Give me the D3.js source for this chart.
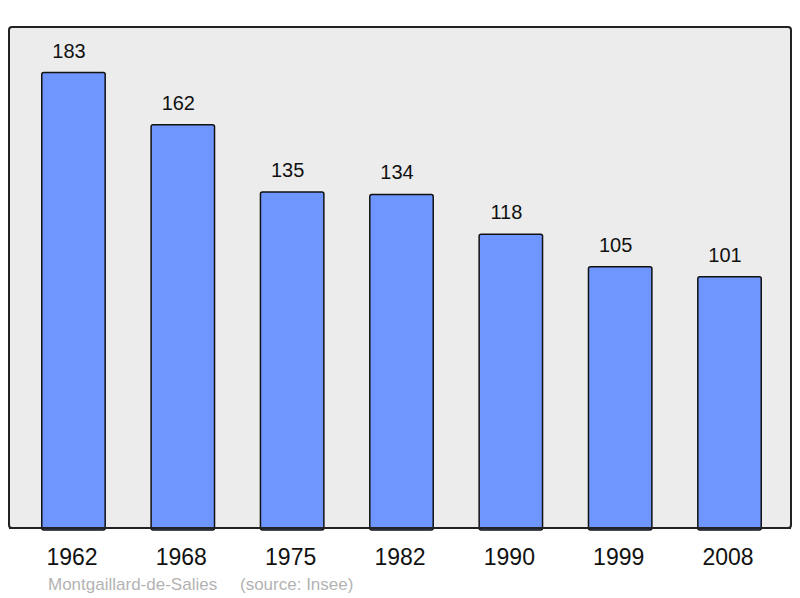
<!DOCTYPE html>
<html><head><meta charset="utf-8">
<script src="https://cdn.jsdelivr.net/npm/d3@7/dist/d3.min.js"></script>
<style>body{margin:0;background:#fff}svg{display:block}text{font-family:"Liberation Sans",Arial,sans-serif}</style>
</head><body>
<script>
const years = ["1962","1968","1975","1982","1990","1999","2008"];
const population = [183,162,135,134,118,105,101];
const place = "Montgaillard-de-Salies";
const source = "(source: Insee)";

const W = 800, H = 598;
const frame = {x0: 9, x1: 791, y0: 27, y1: 528};
const svg = d3.select("body").append("svg").attr("width", W).attr("height", H);

svg.append("rect").attr("x", frame.x0).attr("y", frame.y0)
  .attr("width", frame.x1 - frame.x0).attr("height", frame.y1 - frame.y0)
  .attr("rx", 3).attr("fill", "#ececec").attr("stroke", "#222").attr("stroke-width", 2);

const x = d3.scaleBand().domain(years).range([18.8, 784.2]).paddingInner(0.42).paddingOuter(0.21);
const y = d3.scaleLinear().domain([0, d3.max(population) * 1.1]).range([frame.y1, frame.y0]);

const g = svg.append("g");
g.selectAll("rect.bar").data(years).join("rect").attr("class", "bar")
  .attr("x", d => x(d)).attr("width", x.bandwidth())
  .attr("y", (d, i) => y(population[i])).attr("height", (d, i) => frame.y1 - y(population[i]) + 2)
  .attr("rx", 2).attr("fill", "#6f96ff").attr("stroke", "#111").attr("stroke-width", 1.5);

svg.append("line").attr("x1", frame.x0).attr("x2", frame.x1).attr("y1", frame.y1).attr("y2", frame.y1)
  .attr("stroke", "#222").attr("stroke-width", 2);

g.selectAll("text.val").data(years).join("text").attr("class", "val")
  .attr("x", d => x(d) + x.bandwidth() / 2 - 4.5).attr("y", (d, i) => y(population[i]) - 15)
  .attr("text-anchor", "middle").attr("font-size", 20).attr("fill", "#111")
  .text((d, i) => population[i]);

const ax = svg.append("g").attr("transform", `translate(0,${frame.y1})`)
  .call(d3.axisBottom(x).tickSize(0).tickPadding(0));
ax.select(".domain").remove();
ax.selectAll("text").attr("x", -1.5).attr("y", 37).attr("dy", 0).attr("font-size", 23).attr("fill", "#111")
  .style("font-family", '"Liberation Sans",Arial,sans-serif');

svg.append("text").attr("x", 48).attr("y", 590).attr("font-size", 17).attr("fill", "#b3b3b3")
  .text(place);
svg.append("text").attr("x", 240).attr("y", 590).attr("font-size", 17).attr("fill", "#b3b3b3")
  .text(source);
</script>
</body></html>
